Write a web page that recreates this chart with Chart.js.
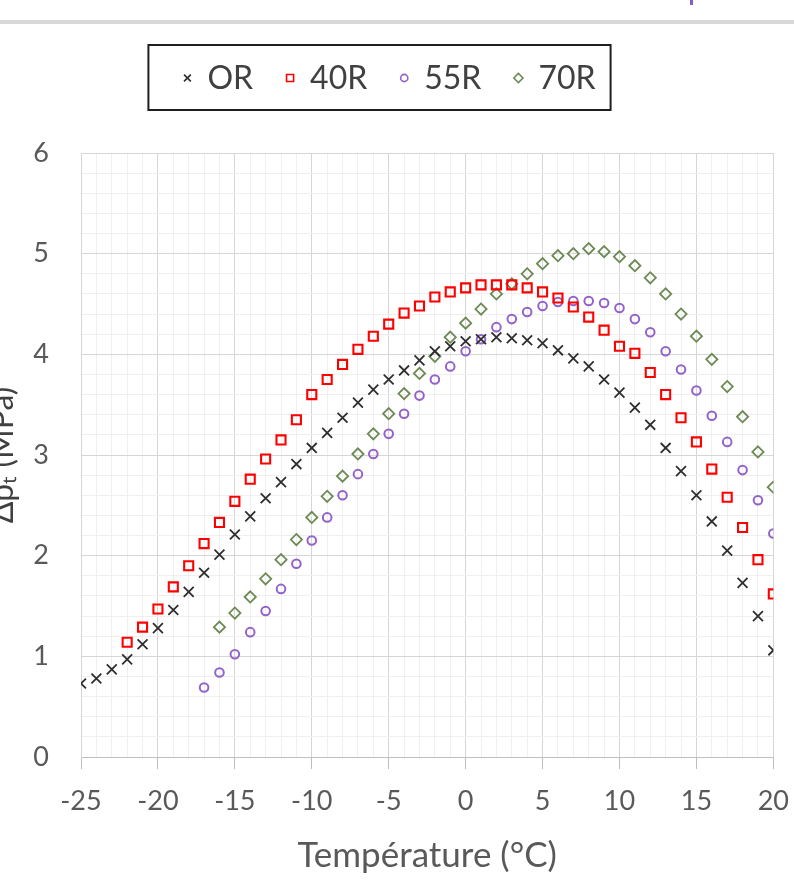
<!DOCTYPE html>
<html>
<head>
<meta charset="utf-8">
<script src="https://cdn.jsdelivr.net/npm/chart.js@4.4.1/dist/chart.umd.min.js"></script>
<style>
  html, body { margin: 0; padding: 0; background: #fff; overflow: hidden; }
  body { width: 794px; height: 883px; position: relative; }
  .topbar { position: absolute; left: 0; top: 20px; width: 794px; height: 4px; background: #d9d9d9; }
  .mark { position: absolute; left: 690px; top: 0; width: 3px; height: 5px; background: #8a5cc0; }
  #wrap { position: absolute; left: -10px; top: 0; width: 815px; height: 883px; }
</style>
</head>
<body>
<div class="topbar"></div>
<div class="mark"></div>
<div id="wrap"><canvas id="chart"></canvas></div>
<script>
// temperature steps (°C)
const temperature = [-25, -24, -23, -22, -21, -20, -19, -18, -17, -16,
                     -15, -14, -13, -12, -11, -10, -9, -8, -7, -6,
                     -5, -4, -3, -2, -1, 0, 1, 2, 3, 4,
                     5, 6, 7, 8, 9, 10, 11, 12, 13, 14,
                     15, 16, 17, 18, 19, 20];

// Δpt (MPa), null where the mix was not measured
const seriesOR = [0.73, 0.78, 0.87, 0.97, 1.12, 1.28, 1.46, 1.64, 1.83, 2.01,
                  2.21, 2.39, 2.57, 2.73, 2.91, 3.07, 3.22, 3.37, 3.52, 3.65,
                  3.75, 3.84, 3.94, 4.03, 4.08, 4.13, 4.15, 4.17, 4.16, 4.14,
                  4.11, 4.04, 3.96, 3.88, 3.75, 3.62, 3.47, 3.30, 3.07, 2.84,
                  2.60, 2.34, 2.05, 1.73, 1.40, 1.06];
const series40R = [null, null, null, 1.14, 1.29, 1.47, 1.69, 1.90, 2.12, 2.33,
                   2.54, 2.76, 2.96, 3.15, 3.35, 3.60, 3.75, 3.90, 4.05, 4.18,
                   4.30, 4.41, 4.48, 4.57, 4.62, 4.66, 4.69, 4.69, 4.69, 4.66,
                   4.62, 4.56, 4.47, 4.37, 4.24, 4.08, 4.01, 3.82, 3.60, 3.37,
                   3.13, 2.86, 2.58, 2.28, 1.96, 1.62];
const series55R = [null, null, null, null, null, null, null, null, 0.69, 0.84,
                   1.02, 1.24, 1.45, 1.67, 1.92, 2.15, 2.38, 2.60, 2.81, 3.01,
                   3.21, 3.41, 3.59, 3.75, 3.88, 4.03, 4.15, 4.27, 4.35, 4.42,
                   4.48, 4.52, 4.53, 4.53, 4.51, 4.46, 4.35, 4.22, 4.03, 3.85,
                   3.64, 3.39, 3.13, 2.85, 2.55, 2.22];
const series70R = [null, null, null, null, null, null, null, null, null, 1.29,
                   1.43, 1.59, 1.77, 1.96, 2.16, 2.38, 2.59, 2.79, 3.01, 3.21,
                   3.41, 3.61, 3.81, 3.98, 4.17, 4.31, 4.45, 4.60, 4.70, 4.80,
                   4.90, 4.98, 5.00, 5.05, 5.02, 4.97, 4.88, 4.76, 4.60, 4.40,
                   4.18, 3.95, 3.68, 3.38, 3.03, 2.68];

const seriesNames = ["OR", "40R", "55R", "70R"];
const xTickStep = 5;
const yTickStep = 1;

function toPoints(values) {
    const pts = [];
    values.forEach((v, i) => {
        if (v !== null) pts.push({ x: temperature[i], y: v });
    });
    return pts;
}

function isMajor(v, step) {
    const r = v / step;
    return Math.abs(r - Math.round(r)) < 1e-6;
}

// legend drawn inside a framed box above the plot
const boxedLegend = {
    id: "boxedLegend",
    afterDraw(chart, args, opts) {
        const ctx = chart.ctx;
        const sets = chart.data.datasets;
        ctx.save();
        ctx.font = opts.fontSize + "px " + opts.family;
        const widths = sets.map(ds => ctx.measureText(ds.label).width);
        let total = opts.padLeft + opts.padRight + opts.gap * (sets.length - 1);
        widths.forEach(w => total += opts.textOffset + w);
        const left = opts.centerX - total / 2;

        ctx.lineWidth = opts.borderWidth;
        ctx.strokeStyle = opts.borderColor;
        ctx.strokeRect(left, opts.top, total, opts.bottom - opts.top);

        const cy = opts.textY;
        let x = left + opts.padLeft;
        sets.forEach((ds, i) => {
            ctx.strokeStyle = ds.borderColor;
            ctx.fillStyle = "rgba(0,0,0,0)";
            ctx.lineWidth = opts.markerLine;
            Chart.helpers.drawPoint(ctx, {
                pointStyle: ds.pointStyle,
                radius: opts.markerRadius[i],
                rotation: 0,
                borderWidth: opts.markerLine
            }, x, cy);
            ctx.fillStyle = opts.color;
            ctx.textAlign = "left";
            ctx.textBaseline = "middle";
            ctx.fillText(ds.label, x + opts.textOffset, cy + 1);
            x += opts.textOffset + widths[i] + opts.gap;
        });
        ctx.restore();
    }
};

function draw() {
    new Chart(document.getElementById("chart"), {
        type: "scatter",
        data: {
            datasets: [
                {
                    label: seriesNames[0],
                    data: toPoints(seriesOR),
                    pointStyle: "crossRot",
                    pointRadius: 7,
                    pointBorderWidth: 1.8,
                    borderColor: "#2e2e2e",
                    backgroundColor: "rgba(0,0,0,0)"
                },
                {
                    label: seriesNames[1],
                    data: toPoints(series40R),
                    pointStyle: "rect",
                    pointRadius: 6.4,
                    pointBorderWidth: 2.1,
                    borderColor: "#ff0000",
                    backgroundColor: "rgba(0,0,0,0)"
                },
                {
                    label: seriesNames[2],
                    data: toPoints(series55R),
                    pointStyle: "circle",
                    pointRadius: 4.3,
                    pointBorderWidth: 2,
                    borderColor: "#9462c9",
                    backgroundColor: "rgba(0,0,0,0)"
                },
                {
                    label: seriesNames[3],
                    data: toPoints(series70R),
                    pointStyle: "rectRot",
                    pointRadius: 5.6,
                    pointBorderWidth: 1.8,
                    borderColor: "#6d8a55",
                    backgroundColor: "rgba(0,0,0,0)"
                }
            ]
        },
        options: {
            responsive: true,
            maintainAspectRatio: false,
            animation: false,
            events: [],
            layout: { padding: { top: 153, right: 9, bottom: 0, left: 0 } },
            plugins: {
                legend: { display: false },
                tooltip: { enabled: false },
                boxedLegend: {
                    centerX: 389.5,
                    top: 45,
                    bottom: 110,
                    textY: 78,
                    padLeft: 39,
                    padRight: 15,
                    gap: 37,
                    textOffset: 20,
                    fontSize: 32,
                    family: "Lato",
                    color: "#404040",
                    borderColor: "#1f1f1f",
                    borderWidth: 2,
                    markerRadius: [4.8, 5, 3.6, 4.6],
                    markerLine: 1.6
                }
            },
            scales: {
                x: {
                    type: "linear",
                    min: -25,
                    max: 20,
                    afterFit: s => { s.height = 126; },
                    ticks: {
                        stepSize: 1,
                        autoSkip: false,
                        maxRotation: 0,
                        padding: 16,
                        color: "#595959",
                        font: { family: "Lato", size: 27 },
                        callback: v => isMajor(v, xTickStep) ? String(v) : ""
                    },
                    grid: {
                        color: c => isMajor(c.tick.value, xTickStep) ? "#d6d6d6" : "#efefef",
                        tickColor: c => isMajor(c.tick.value, xTickStep) ? "#bfbfbf" : "rgba(0,0,0,0)",
                        tickLength: 12,
                        lineWidth: 1
                    },
                    border: { color: "#bfbfbf", width: 1 },
                    title: {
                        display: true,
                        text: "Température (°C)",
                        color: "#595959",
                        font: { family: "Lato", size: 35, lineHeight: 1.2 },
                        padding: { top: 0, bottom: 6 }
                    }
                },
                y: {
                    type: "linear",
                    min: 0,
                    max: 6,
                    afterFit: s => { s.width = 91; },
                    ticks: {
                        stepSize: 0.2,
                        autoSkip: false,
                        padding: 32,
                        color: "#595959",
                        font: { family: "Lato", size: 27 },
                        callback: v => isMajor(v, yTickStep) ? String(Math.round(v)) : ""
                    },
                    grid: {
                        color: c => isMajor(c.tick.value, yTickStep) ? "#d6d6d6" : "#efefef",
                        drawTicks: false,
                        tickLength: 0,
                        lineWidth: 1
                    },
                    border: { color: "#d6d6d6", width: 1 },
                    title: {
                        display: true,
                        text: "Δpₜ (MPa)",
                        color: "#404040",
                        font: { family: "Lato", size: 32, lineHeight: 0.8 },
                        padding: { top: 0, bottom: 0 }
                    }
                }
            }
        },
        plugins: [boxedLegend]
    });
}

if (document.fonts && document.fonts.load) {
    Promise.all([document.fonts.load("27px Lato"), document.fonts.load("35px Lato")])
        .then(draw, draw);
} else {
    draw();
}
</script>
</body>
</html>
